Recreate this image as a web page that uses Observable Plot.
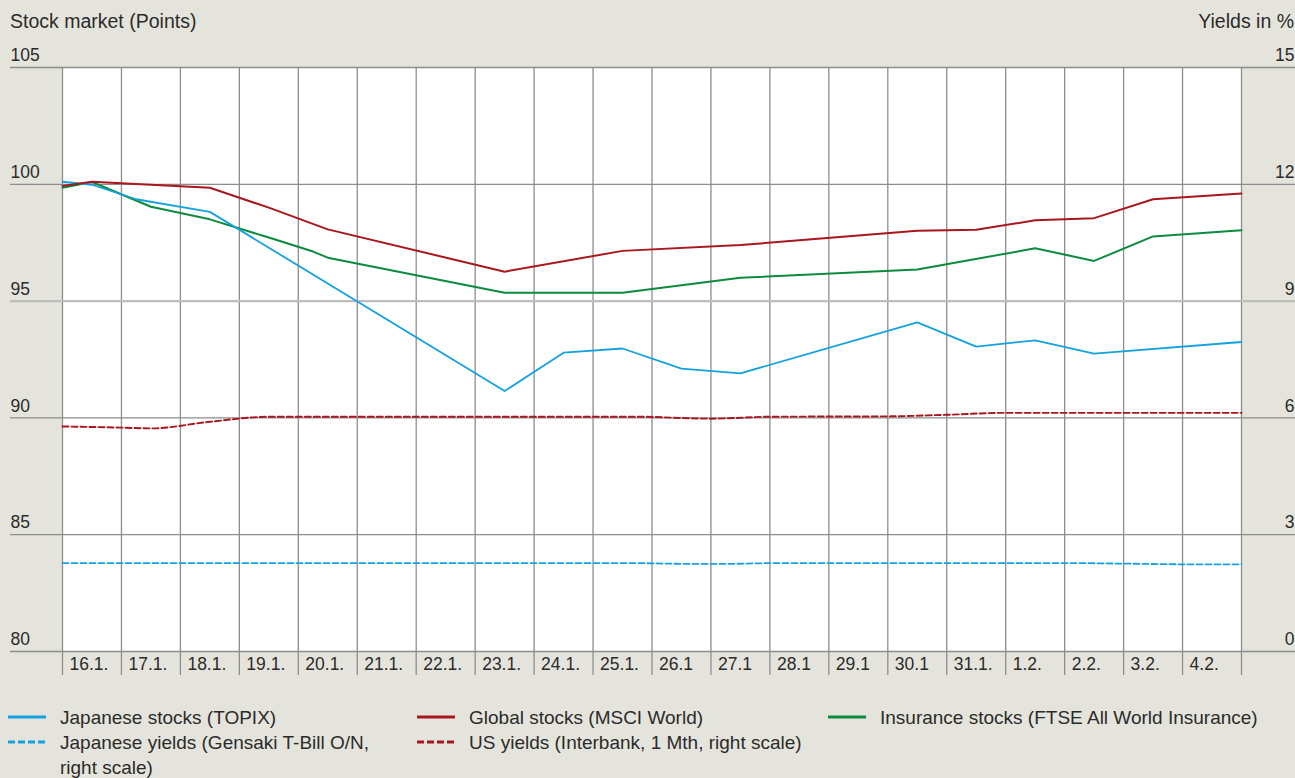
<!DOCTYPE html>
<html><head><meta charset="utf-8">
<script src="https://cdn.jsdelivr.net/npm/d3@7"></script>
<script src="https://cdn.jsdelivr.net/npm/@observablehq/plot@0.6"></script>
<style>
body{margin:0;background:#e5e4dc;font-family:"Liberation Sans",Arial,sans-serif;color:#2b2b2b;}
#wrap{position:relative;width:1295px;height:778px;overflow:hidden;background:#e5e4dc;}
#head{position:absolute;left:0;top:0;width:1295px;height:40px;font-size:19.5px;line-height:19px;}
#head .l{position:absolute;left:10px;top:12px;}
#head .r{position:absolute;right:1px;top:12px;}
#chart{position:absolute;left:0;top:40px;}
#legend{position:absolute;left:0;top:687px;width:1295px;height:91px;font-size:19px;line-height:25px;}
.item{position:absolute;height:25px;white-space:nowrap;}
.item svg{position:absolute;left:0;top:0;}
.item span{position:absolute;top:0;}
</style>
</head>
<body>
<div id="wrap">
  <div id="head"><span class="l">Stock market (Points)</span><span class="r">Yields in %</span></div>
  <div id="chart"></div>
  <div id="legend"></div>
</div>
<script>
// ---- data ----
const dateLabels = ["16.1.","17.1.","18.1.","19.1.","20.1.","21.1.","22.1.","23.1.","24.1.","25.1.","26.1","27.1","28.1","29.1","30.1","31.1.","1.2.","2.2.","3.2.","4.2."];
const leftTicks = [80, 85, 90, 95, 100, 105];
const rightTicks = [0, 3, 6, 9, 12, 15];

// Japanese stocks (TOPIX), points
const topixDay = [0, 0.5, 1.25, 2.5, 7.5, 8.5, 9.5, 10.5, 11.5, 14.5, 15.5, 16.5, 17.5, 20];
const topixPts = [100.11, 99.98, 99.36, 98.82, 91.15, 92.79, 92.97, 92.11, 91.91, 94.09, 93.05, 93.32, 92.75, 93.25];

// Global stocks (MSCI World), points
const msciDay = [0, 0.5, 2.5, 3.5, 4.5, 7.5, 9.5, 11.5, 14.5, 15.5, 16.5, 17.5, 18.5, 20];
const msciPts = [99.93, 100.11, 99.85, 99.0, 98.07, 96.26, 97.15, 97.4, 98.01, 98.05, 98.46, 98.55, 99.36, 99.61];

// Insurance stocks (FTSE All World Insurance), points
const insDay = [0, 0.5, 1.5, 2.5, 3.5, 4.25, 4.5, 7.5, 9.5, 11.5, 14.5, 16.5, 17.5, 18.5, 20];
const insPts = [99.85, 100.1, 99.04, 98.5, 97.72, 97.12, 96.86, 95.36, 95.36, 96.0, 96.35, 97.26, 96.72, 97.77, 98.03];

// Japanese yields (Gensaki T-Bill O/N), %
const jpDay = [0, 9.8, 10.5, 11.3, 12, 17.3, 18.9, 20];
const jpYld = [2.27, 2.27, 2.25, 2.25, 2.27, 2.27, 2.24, 2.24];

// US yields (Interbank, 1 Mth), %
const usDay = [0, 1, 1.5, 2.5, 3.5, 9.75, 11, 12, 14, 15, 16, 20];
const usYld = [5.78, 5.75, 5.73, 5.9, 6.03, 6.03, 5.98, 6.03, 6.04, 6.08, 6.13, 6.13];

// ---- styles ----
const BLUE = "#13a2df", RED = "#a8161e", GREEN = "#0c8a3e", GRID = "#8d8d8d", TXT = "#2b2b2b";

// right scale (0–15 %) mapped onto left scale (80–105 points)
const toLeft = v => 80 + v * 25 / 15;
const rows = (days, vals, conv = v => v) => days.map((d, i) => ({day: d, value: conv(vals[i])}));

const chart = Plot.plot({
  width: 1295, height: 650,
  marginTop: 27, marginBottom: 39, marginLeft: 62, marginRight: 54,
  style: {background: "transparent", fontFamily: "'Liberation Sans', Arial, sans-serif", color: TXT, overflow: "visible"},
  x: {domain: [0, 20], axis: null},
  y: {domain: [80, 105], axis: null},
  marks: [
    Plot.frame({fill: "white", stroke: null}),
    Plot.ruleX(d3.range(21), {stroke: GRID, strokeWidth: 1.3, insetBottom: -24}),
    Plot.ruleY(leftTicks.filter(d => d !== 95), {stroke: GRID, strokeWidth: 1.3, insetLeft: -52, insetRight: -54}),
    Plot.ruleY(leftTicks.filter(d => d === 95), {stroke: "#bdbdbd", strokeWidth: 2.2, insetLeft: -52, insetRight: -54}),
    Plot.line(rows(jpDay, jpYld, toLeft), {x: "day", y: "value", stroke: BLUE, strokeWidth: 1.8, strokeDasharray: "6,3"}),
    Plot.line(rows(usDay, usYld, toLeft), {x: "day", y: "value", stroke: RED, strokeWidth: 1.9, strokeDasharray: "6,3", curve: "monotone-x"}),
    Plot.line(rows(insDay, insPts), {x: "day", y: "value", stroke: GREEN, strokeWidth: 2}),
    Plot.line(rows(topixDay, topixPts), {x: "day", y: "value", stroke: BLUE, strokeWidth: 1.8}),
    Plot.line(rows(msciDay, msciPts), {x: "day", y: "value", stroke: RED, strokeWidth: 2}),
    Plot.text(leftTicks, {y: d => d, text: d => String(d), frameAnchor: "left", textAnchor: "start", dx: -52, dy: -12, fontSize: 17.5, fill: TXT}),
    Plot.text(rightTicks, {y: toLeft, text: d => String(d), frameAnchor: "right", textAnchor: "end", dx: 53, dy: -12, fontSize: 17.5, fill: TXT}),
    Plot.text(dateLabels, {x: (d, i) => i, text: d => d, frameAnchor: "bottom", textAnchor: "start", dx: 7, dy: 18.5, fontSize: 17.5, fill: TXT})
  ]
});
document.getElementById("chart").appendChild(chart);

// ---- legend ----
const legendItems = [
  {left: 8,   top: 18, text: "Japanese stocks (TOPIX)", color: BLUE, dash: null},
  {left: 8,   top: 43, text: "Japanese yields (Gensaki T-Bill O/N,<br>right scale)", color: BLUE, dash: "7,3"},
  {left: 417, top: 18, text: "Global stocks (MSCI World)", color: RED, dash: null},
  {left: 417, top: 43, text: "US yields (Interbank, 1 Mth, right scale)", color: RED, dash: "7,3"},
  {left: 828, top: 18, text: "Insurance stocks (FTSE All World Insurance)", color: GREEN, dash: null}
];
const leg = document.getElementById("legend");
for (const it of legendItems) {
  const d = document.createElement("div");
  d.className = "item";
  d.style.left = it.left + "px";
  d.style.top = it.top + "px";
  d.innerHTML = `<svg width="40" height="25"><line x1="0" x2="38" y1="12" y2="12" stroke="${it.color}" stroke-width="3" ${it.dash ? `stroke-dasharray="${it.dash}"` : ""}/></svg><span style="left:52px">${it.text}</span>`;
  leg.appendChild(d);
}
</script>
</body></html>
